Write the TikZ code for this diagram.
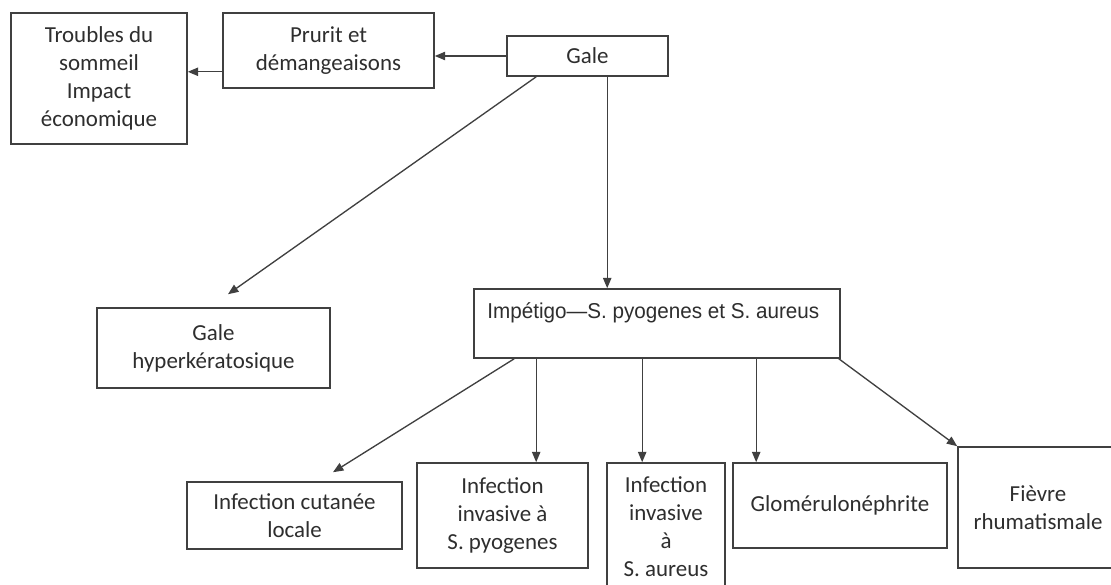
\documentclass[tikz,border=0pt]{standalone}
\usepackage{fontspec}
\setmainfont{Carlito}
\newfontfamily\narrowfont[FakeStretch=0.96]{Liberation Sans}
\usepackage{xcolor}
\usepackage{tikz}
\usetikzlibrary{calc,arrows.meta}
\definecolor{ink}{HTML}{2E2E2E}
\definecolor{edge}{HTML}{404040}

\tikzset{
  box/.style={draw=edge, line width=1.1pt, fill=white, align=center, text=ink,
    inner sep=2pt, font=\fontsize{16.3}{19.9}\selectfont},
  arr/.style={draw=edge, line width=0.95pt, -{Triangle[length=2.6mm,width=2.1mm]}}
}

\begin{document}
\begin{tikzpicture}[x=0.025cm, y=-0.025cm]
\useasboundingbox (0,0) rectangle (1111,585);

% Top row
\node[box, minimum width=4.4cm, minimum height=3.275cm] (troub) at (99,78.5)
  {Troubles du\\sommeil\\Impact\\économique};
\node[box, minimum width=5.275cm, minimum height=1.875cm] (prurit) at (328.5,50.5)
  {Prurit et\\démangeaisons};
\node[box, minimum width=4.025cm, minimum height=1.0cm] (gale) at (587.5,56) {Gale};

% Middle row
\node[box, minimum width=5.825cm, minimum height=2.0cm] (hyper) at (213.5,348)
  {Gale\\hyperkératosique};
\node[box, minimum width=9.15cm, minimum height=1.725cm] (imp) at (657,323.5) {};
\node[anchor=base west, inner sep=0, text=ink, font=\narrowfont\fontsize{15.3}{18}\selectfont]
  (imptxt) at ($(imp.north west)+(14,30)$) {Impétigo—S. pyogenes et S. aureus};

% Bottom row
\node[box, minimum width=5.375cm, minimum height=1.675cm] (cut) at (294.5,515.5)
  {Infection cutanée\\locale};
\node[box, minimum width=4.275cm, minimum height=2.625cm] (spyo) at (502.5,515.5)
  {Infection\\invasive à\\S. pyogenes};
\node[box, minimum width=2.95cm, minimum height=3.175cm] (saur) at (666,526.5)
  {Infection\\invasive\\à\\S. aureus};
\node[box, minimum width=5.35cm, minimum height=2.125cm] (glom) at (840,505.5)
  {Glomérulonéphrite};
\node[box, minimum width=4.0cm, minimum height=3.025cm] (fievre) at (1038,507.5)
  {Fièvre\\rhumatismale};

% Gale -> Prurit -> Troubles
\draw[arr] (gale.west) -- (gale.west -| prurit.east);
\coordinate (p1) at ($(prurit.south west)+(0,-17)$);
\draw[arr] (p1) -- (p1 -| troub.east);

% Gale -> hyperkeratosique
\coordinate (g0) at ($(gale.south west)+(30,0)$);
\coordinate (hyptip) at ($(hyper.north)+(14.5,-13)$);
\draw[arr] (g0) -- (hyptip);

% Gale -> Impetigo
\coordinate (g1) at ($(gale.south west)+(101,0)$);
\draw[arr] (g1) -- (g1 |- imp.north);

% Impetigo -> complications
\coordinate (i0) at ($(imp.south west)+(41,0)$);
\coordinate (cuttip) at ($(cut.north)+(38.5,-9)$);
\draw[arr] (i0) -- (cuttip);
\foreach \dx/\dest in {63/spyo,169/saur,283/glom}{
  \coordinate (i\dest) at ($(imp.south west)+(\dx,0)$);
  \draw[arr] (i\dest) -- (i\dest |- \dest.north);
}
\coordinate (i5) at ($(imp.south east)+(-2,0)$);
\draw[arr] (i5) -- (fievre.north west);
\end{tikzpicture}
\end{document}
